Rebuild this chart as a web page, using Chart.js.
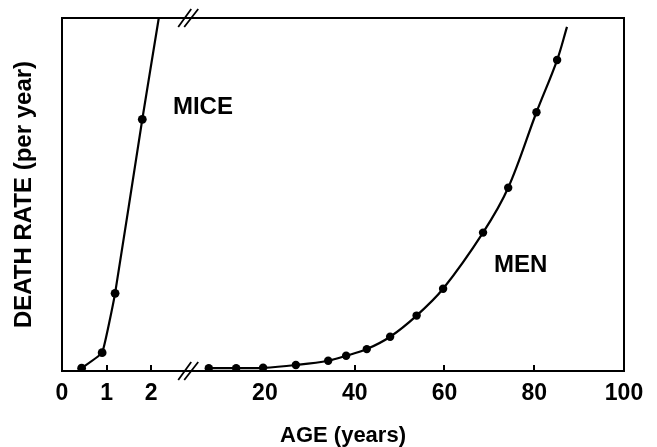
<!DOCTYPE html>
<html><head><meta charset="utf-8">
<script src="https://cdn.jsdelivr.net/npm/chart.js@4/dist/chart.umd.min.js"></script>
<style>html,body{margin:0;padding:0;background:#fff}#wrap{width:657px;height:447px}</style>
</head><body><div id="wrap"><canvas id="c" width="657" height="447"></canvas></div>
<script>
// ---- data ----
const miceAges  = [0.44, 0.90, 1.19, 1.80, 2.17];
const miceRates = [0.8, 5.2, 22.0, 71.3, 100];
const menAges   = [7.5, 13.6, 19.6, 26.9, 34.1, 38.1, 42.7, 47.9, 53.8, 59.7, 68.6, 74.2, 80.5, 85.1, 87.3];
const menRates  = [0.8, 0.8, 0.9, 1.7, 2.9, 4.3, 6.2, 9.7, 15.7, 23.3, 39.2, 51.9, 73.3, 88.1, 97.5];
const miceTicks = [0, 1, 2];
const menTicks  = [20, 40, 60, 80, 100];
const seriesNames = ['MICE', 'MEN'];
const axisTitles = {x: 'AGE (years)', y: 'DEATH RATE (per year)'};

// ---- styling / layout ----
const FONT = "'Liberation Sans', Arial, Helvetica, sans-serif";
Chart.defaults.font.family = FONT;
Chart.defaults.color = '#000';
const nameAnchors = [{axis: 'xMice', x: 3.16, y: 74.8}, {axis: 'xMen', x: 77.0, y: 30.0}];
const breakAtMice = 2.83;

const lastHidden = (n, r) => (c => c.dataIndex === n - 1 ? 0 : r);

const framePlugin = {
  id: 'frame',
  beforeDatasetsDraw(chart) {
    const {ctx, chartArea: a, scales} = chart;
    ctx.save();
    ctx.strokeStyle = '#000';
    ctx.lineWidth = 2;
    ctx.strokeRect(a.left, a.top, a.right - a.left, a.bottom - a.top);
    // inward tick marks at the scales' ticks
    ctx.beginPath();
    ['xMice', 'xMen'].forEach(id => {
      const s = scales[id];
      s.ticks.forEach(t => {
        const px = Math.round(s.getPixelForValue(t.value));
        ctx.moveTo(px, a.bottom);
        ctx.lineTo(px, a.bottom - 6);
      });
    });
    ctx.stroke();
    ctx.restore();
  },
  afterDraw(chart) {
    const {ctx, chartArea: a, scales} = chart;
    ctx.save();
    // axis break marks
    const bx = scales.xMice.getPixelForValue(breakAtMice);
    ctx.strokeStyle = '#000';
    ctx.lineWidth = 1.8;
    [a.top, a.bottom].forEach(y0 => {
      ctx.beginPath();
      ctx.moveTo(bx - 10, y0 + 9); ctx.lineTo(bx + 3, y0 - 9);
      ctx.moveTo(bx - 4, y0 + 9);  ctx.lineTo(bx + 10, y0 - 9);
      ctx.stroke();
    });
    // series names
    ctx.fillStyle = '#000';
    ctx.font = "bold 24px " + FONT;
    ctx.textAlign = 'center';
    ctx.textBaseline = 'middle';
    nameAnchors.forEach((n, i) => {
      ctx.fillText(seriesNames[i], scales[n.axis].getPixelForValue(n.x), scales.y.getPixelForValue(n.y));
    });
    ctx.restore();
  }
};

const tickFont = {size: 23, weight: 'bold'};

new Chart(document.getElementById('c'), {
  type: 'scatter',
  data: {
    datasets: [
      {
        label: seriesNames[0],
        data: miceAges.map((x, i) => ({x, y: miceRates[i]})),
        xAxisID: 'xMice', yAxisID: 'y',
        showLine: true, tension: 0.1,
        borderColor: '#000', backgroundColor: '#000', borderWidth: 2.2,
        pointRadius: lastHidden(miceAges.length, 4.4), pointHoverRadius: lastHidden(miceAges.length, 4.4),
        pointBorderWidth: 0
      },
      {
        label: seriesNames[1],
        data: menAges.map((x, i) => ({x, y: menRates[i]})),
        xAxisID: 'xMen', yAxisID: 'y',
        showLine: true, tension: 0.35,
        borderColor: '#000', backgroundColor: '#000', borderWidth: 2.2,
        pointRadius: lastHidden(menAges.length, 4.2), pointHoverRadius: lastHidden(menAges.length, 4.2),
        pointBorderWidth: 0
      }
    ]
  },
  options: {
    responsive: false,
    animation: false,
    events: [],
    layout: {padding: {top: 18, right: 33, left: 0, bottom: 0}},
    plugins: {legend: {display: false}, tooltip: {enabled: false}},
    scales: {
      y: {
        type: 'linear', position: 'left', min: 0, max: 100,
        ticks: {display: false}, grid: {display: false}, border: {display: false},
        title: {display: true, text: axisTitles.y, font: {size: 24, weight: 'bold'}, padding: {top: 10, bottom: 0}},
        afterFit(s) { s.width = 62; }
      },
      xMice: {
        type: 'linear', position: 'bottom', min: 0, max: 12.6,
        afterBuildTicks(s) { s.ticks = miceTicks.map(v => ({value: v})); },
        ticks: {autoSkip: false, maxRotation: 0, font: tickFont, padding: 9, callback: v => String(v)},
        grid: {display: false, drawTicks: false}, border: {display: false},
        title: {display: true, text: axisTitles.x, font: {size: 22, weight: 'bold', lineHeight: 1}, padding: {top: 0, bottom: 0}},
        afterFit(s) { s.height = 76; }
      },
      xMen: {
        type: 'linear', position: {y: 0}, min: -25.2, max: 100,
        afterBuildTicks(s) { s.ticks = menTicks.map(v => ({value: v})); },
        ticks: {autoSkip: false, maxRotation: 0, font: tickFont, padding: 9, callback: v => String(v)},
        grid: {display: false, drawTicks: false}, border: {display: false}
      }
    }
  },
  plugins: [framePlugin]
});
</script>
</body></html>
